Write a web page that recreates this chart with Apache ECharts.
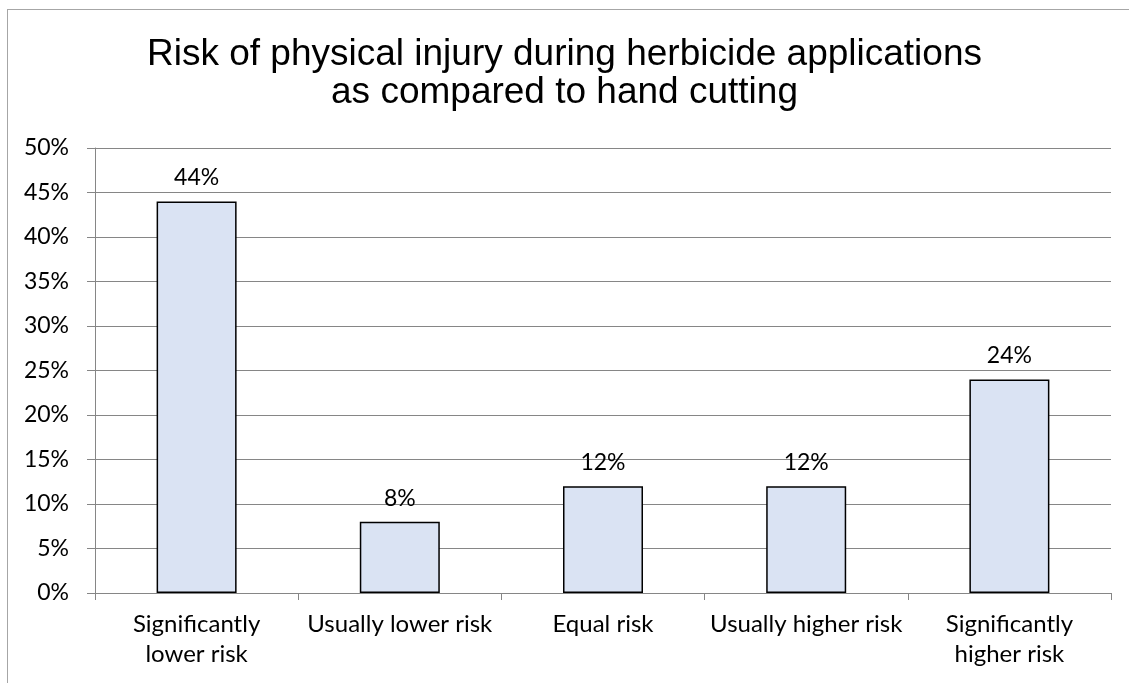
<!DOCTYPE html>
<html>
<head>
<meta charset="utf-8">
<script src="https://cdn.jsdelivr.net/npm/echarts@6/dist/echarts.min.js"></script>
<style>
  html, body { margin: 0; padding: 0; background: #fff; }
  #frame {
    position: absolute; left: 7px; top: 9px; right: 0; bottom: 0;
    border-left: 1px solid #a6a6a6; border-top: 1px solid #a6a6a6;
  }
  #chart { position: absolute; left: 0; top: 0; width: 1129px; height: 683px; }
</style>
</head>
<body>
<div id="frame"></div>
<div id="chart"></div>
<script>
// chart data
const categories = [
  'Significantly\nlower risk',
  'Usually lower risk',
  'Equal risk',
  'Usually higher risk',
  'Significantly\nhigher risk',
]
const shares = [44, 8, 12, 12, 24]

const titleLines = 'Risk of physical injury during herbicide applications\nas compared to hand cutting'
const labelFont = 'Lato, "Open Sans", sans-serif'

const chart = echarts.init(document.getElementById('chart'))
chart.setOption({
  animation: false,
  backgroundColor: 'transparent',
  title: {
    text: titleLines,
    left: 'center',
    top: 31,
    textStyle: {
      fontFamily: '"Liberation Sans", Arial, sans-serif',
      fontWeight: 'normal',
      fontSize: 37,
      lineHeight: 38,
      color: '#000',
    },
  },
  grid: { left: 95, right: 18, top: 148, bottom: 90 },
  xAxis: {
    type: 'category',
    data: categories,
    axisLine: { lineStyle: { color: '#868686', width: 1 } },
    axisTick: { show: true, length: 7, lineStyle: { color: '#868686' } },
    axisLabel: {
      margin: 16,
      fontFamily: labelFont,
      fontSize: 24,
      lineHeight: 30,
      color: '#000',
      interval: 0,
    },
  },
  yAxis: {
    type: 'value',
    min: 0,
    max: 50,
    interval: 5,
    axisLine: { show: true, lineStyle: { color: '#868686', width: 1 } },
    axisTick: { show: true, length: 8, lineStyle: { color: '#868686' } },
    splitLine: { lineStyle: { color: '#868686', width: 1 } },
    axisLabel: {
      margin: 26,
      fontFamily: labelFont,
      fontSize: 23,
      color: '#000',
      formatter: '{value}%',
    },
  },
  series: [
    {
      type: 'bar',
      data: shares,
      barWidth: 80,
      itemStyle: { color: '#dae3f3', borderColor: '#000', borderWidth: 1.5 },
      label: {
        show: true,
        position: 'top',
        distance: 12,
        fontFamily: labelFont,
        fontSize: 23,
        color: '#000',
        formatter: '{c}%',
      },
    },
  ],
})
</script>
</body>
</html>
